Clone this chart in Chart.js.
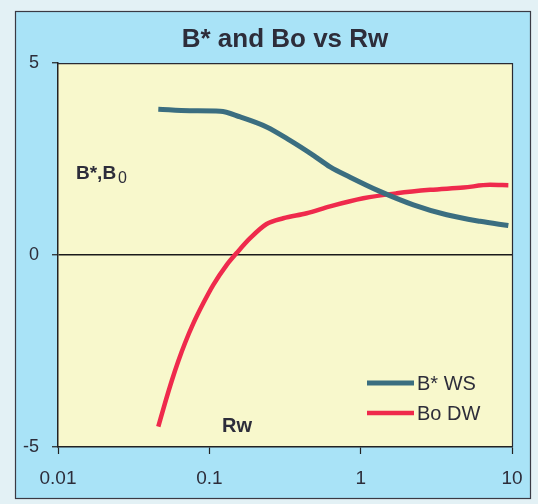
<!DOCTYPE html>
<html>
<head>
<meta charset="utf-8">
<script src="https://cdn.jsdelivr.net/npm/chart.js@4/dist/chart.umd.min.js"></script>
<style>
  html, body { margin: 0; padding: 0; background: #e3f1f5; }
  canvas { display: block; }
</style>
</head>
<body>
<canvas id="c" width="538" height="504"></canvas>
<script>
// ---- data ----
const titleText = 'B* and Bo vs Rw';
const seriesNames = ['B* WS', 'Bo DW'];
const xTicks = [0.01, 0.1, 1, 10];
const yTicks = [-5, 0, 5];

const rwWS = [0.046, 0.0745, 0.118, 0.160, 0.239, 0.341, 0.487, 0.628, 0.851, 1.34, 2.23, 3.70, 6.15, 9.46];
const bStarWS = [3.80, 3.76, 3.75, 3.60, 3.34, 2.99, 2.60, 2.30, 2.03, 1.66, 1.31, 1.05, 0.88, 0.77];

const rwDW = [0.046, 0.0510, 0.0564, 0.0624, 0.0691, 0.0784, 0.0913, 0.106, 0.130, 0.152, 0.186, 0.239, 0.308, 0.440, 0.628, 1.04, 1.73, 2.88, 4.78, 7.16, 9.46];
const boDW = [-4.47, -3.85, -3.28, -2.76, -2.29, -1.78, -1.25, -0.78, -0.26, 0.06, 0.44, 0.81, 0.96, 1.09, 1.27, 1.48, 1.61, 1.70, 1.76, 1.83, 1.82];

const FONT = "'Liberation Sans', Arial, sans-serif";
const INK = '#2d2d3a';

const decor = {
  id: 'decor',
  beforeDraw(chart) {
    const ctx = chart.ctx, a = chart.chartArea;
    ctx.save();
    ctx.fillStyle = '#e3f1f5';
    ctx.fillRect(0, 0, chart.width, chart.height);
    ctx.fillStyle = '#a9e3f7';
    ctx.fillRect(15, 11, 515, 487);
    ctx.strokeStyle = '#3a3a44';
    ctx.lineWidth = 1.2;
    ctx.strokeRect(15.5, 11.5, 515, 487);
    ctx.fillStyle = '#f8f8cc';
    ctx.fillRect(a.left, a.top, a.right - a.left, a.bottom - a.top);
    ctx.restore();
  },
  afterDraw(chart) {
    const ctx = chart.ctx, a = chart.chartArea;
    ctx.save();
    // plot frame top/right
    ctx.strokeStyle = '#2a2a33';
    ctx.lineWidth = 1.2;
    ctx.beginPath();
    ctx.moveTo(a.left, a.top + 0.5);
    ctx.lineTo(a.right + 0.5, a.top + 0.5);
    ctx.lineTo(a.right + 0.5, a.bottom);
    ctx.stroke();
    // axis annotation texts
    ctx.fillStyle = INK;
    ctx.textBaseline = 'alphabetic';
    ctx.textAlign = 'left';
    ctx.font = 'bold 19px ' + FONT;
    ctx.fillText('B*,B', a.left + 18, a.top + 116);
    const w = ctx.measureText('B*,B').width;
    ctx.font = '16px ' + FONT;
    ctx.fillText('0', a.left + 18 + w + 2, a.top + 120);
    ctx.font = 'bold 20px ' + FONT;
    ctx.fillText('Rw', a.left + 164, a.bottom - 15);
    // legend inside plot
    chart.data.datasets.forEach((ds, i) => {
      const y = a.bottom - 64 + i * 30;
      ctx.strokeStyle = ds.borderColor;
      ctx.lineWidth = ds.borderWidth;
      ctx.beginPath();
      ctx.moveTo(a.right - 145, y);
      ctx.lineTo(a.right - 98, y);
      ctx.stroke();
      ctx.fillStyle = INK;
      ctx.font = '20px ' + FONT;
      ctx.textBaseline = 'middle';
      ctx.fillText(ds.label, a.right - 95, y + 1);
    });
    ctx.restore();
  }
};

new Chart(document.getElementById('c'), {
  type: 'line',
  data: {
    datasets: [
      {
        label: seriesNames[0],
        data: rwWS.map((x, i) => ({ x, y: bStarWS[i] })),
        borderColor: '#3b6e80',
        borderWidth: 5,
        pointRadius: 0,
        cubicInterpolationMode: 'monotone',
        fill: false
      },
      {
        label: seriesNames[1],
        data: rwDW.map((x, i) => ({ x, y: boDW[i] })),
        borderColor: '#ef2a4c',
        borderWidth: 4.5,
        pointRadius: 0,
        cubicInterpolationMode: 'monotone',
        fill: false
      }
    ]
  },
  options: {
    responsive: false,
    animation: false,
    devicePixelRatio: 1,
    layout: { padding: { left: 0, right: 26, top: 0, bottom: 0 } },
    plugins: {
      legend: { display: false },
      tooltip: { enabled: false },
      title: {
        display: true,
        fullSize: false,
        text: titleText,
        color: INK,
        font: { family: FONT, size: 26, weight: 'bold' },
        padding: { top: 24, bottom: 8 }
      }
    },
    scales: {
      x: {
        type: 'logarithmic',
        min: xTicks[0],
        max: xTicks[xTicks.length - 1],
        afterBuildTicks: (s) => { s.ticks = xTicks.map(v => ({ value: v })); },
        afterFit: (s) => { s.height = 57; },
        ticks: {
          color: INK,
          font: { family: FONT, size: 19 },
          padding: 13,
          maxRotation: 0,
          autoSkip: false,
          callback: (v) => String(v)
        },
        grid: { drawOnChartArea: false, drawTicks: true, tickLength: 7, tickColor: '#222', tickWidth: 1.2 },
        border: { display: true, color: '#222', width: 1.5 }
      },
      y: {
        min: yTicks[0],
        max: yTicks[yTicks.length - 1],
        afterBuildTicks: (s) => { s.ticks = yTicks.map(v => ({ value: v })); },
        afterFit: (s) => { s.width = 58; },
        ticks: {
          color: INK,
          font: { family: FONT, size: 18 },
          padding: 13,
          callback: (v) => String(v)
        },
        grid: {
          drawTicks: true,
          tickLength: 6,
          tickColor: '#222',
          tickWidth: 1.2,
          color: (c) => (c.tick && c.tick.value === 0) ? '#1a1a1a' : 'rgba(0,0,0,0)',
          lineWidth: 1.5
        },
        border: { display: true, color: '#222', width: 1.5 }
      }
    }
  },
  plugins: [decor]
});
</script>
</body>
</html>
